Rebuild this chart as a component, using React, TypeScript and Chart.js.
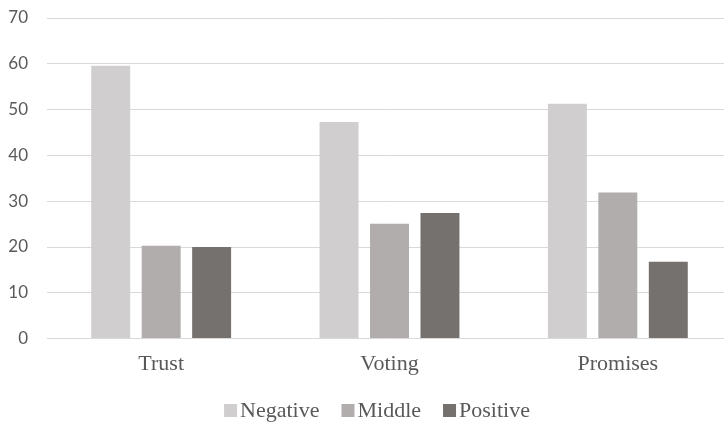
import React, { useEffect, useRef } from "react";
import { Chart, registerables } from "chart.js";

Chart.register(...registerables);

const categories = ["Trust", "Voting", "Promises"];
const seriesNames = ["Negative", "Middle", "Positive"];
const negativeValues = [59.6, 47.3, 51.3];
const middleValues = [20.3, 25.1, 31.9];
const positiveValues = [20.0, 27.4, 16.8];
const seriesColors = ["#d0cecf", "#b0adac", "#75716f"];
const yMin = 0;
const yMax = 70;
const yStep = 10;

const TEXT_COLOR = "#595959";
const SERIF = '"Liberation Serif", "Times New Roman", serif';
const SANS = '"Liberation Sans Narrow", "Lato", sans-serif';

const legendPlugin = {
  id: "customLegend",
  afterDraw(chart: any) {
    const ctx = chart.ctx;
    const items = chart.data.datasets.map((d: any) => ({ label: d.label, color: d.backgroundColor }));
    ctx.save();
    ctx.font = `22px ${SERIF}`;
    const box = 13;
    const gapBox = 3;
    const gapItem = 22;
    const widths = items.map((it: any) => box + gapBox + ctx.measureText(it.label).width);
    const total = widths.reduce((a: number, b: number) => a + b, 0) + gapItem * (items.length - 1);
    let x = 377 - total / 2;
    const boxTop = 404;
    const baseline = 417;
    items.forEach((it: any, i: number) => {
      ctx.fillStyle = it.color;
      ctx.fillRect(x, boxTop, box, box);
      ctx.fillStyle = TEXT_COLOR;
      ctx.textBaseline = "alphabetic";
      ctx.textAlign = "left";
      ctx.fillText(it.label, x + box + gapBox, baseline);
      x += widths[i] + gapItem;
    });
    ctx.restore();
  },
};

export default function App() {
  const canvasRef = useRef<HTMLCanvasElement | null>(null);

  useEffect(() => {
    if (!canvasRef.current) return;
    const valueSets = [negativeValues, middleValues, positiveValues];
    const chart = new Chart(canvasRef.current, {
      type: "bar",
      data: {
        labels: categories,
        datasets: seriesNames.map((name, i) => ({
          label: name,
          data: valueSets[i],
          backgroundColor: seriesColors[i],
          borderWidth: 0,
          categoryPercentage: 0.663,
          barPercentage: 0.772,
        })),
      },
      options: {
        responsive: false,
        animation: false,
        layout: { padding: { top: 18, right: 0, bottom: 33, left: 0 } },
        plugins: {
          legend: { display: false },
          tooltip: { enabled: false },
        },
        scales: {
          x: {
            grid: { display: false, drawTicks: false },
            border: { display: false },
            ticks: {
              color: TEXT_COLOR,
              font: { family: SERIF, size: 22 },
              padding: 12,
            },
          },
          y: {
            min: yMin,
            max: yMax,
            afterFit: (s: any) => {
              s.width = 47;
              s.paddingTop = 0;
              s.paddingBottom = 0;
            },
            grid: { color: "#d9d9d9", lineWidth: 1, drawTicks: false },
            border: { display: false },
            ticks: {
              stepSize: yStep,
              color: TEXT_COLOR,
              font: { family: SANS, size: 17 },
              padding: 19,
            },
          },
        },
      },
      plugins: [legendPlugin],
    });
    return () => chart.destroy();
  }, []);

  return (
    <div style={{ position: "absolute", left: 0, top: 0, width: 724, height: 422, overflow: "hidden", background: "#fff" }}>
      <canvas ref={canvasRef} width={732} height={422} style={{ display: "block" }} />
    </div>
  );
}
